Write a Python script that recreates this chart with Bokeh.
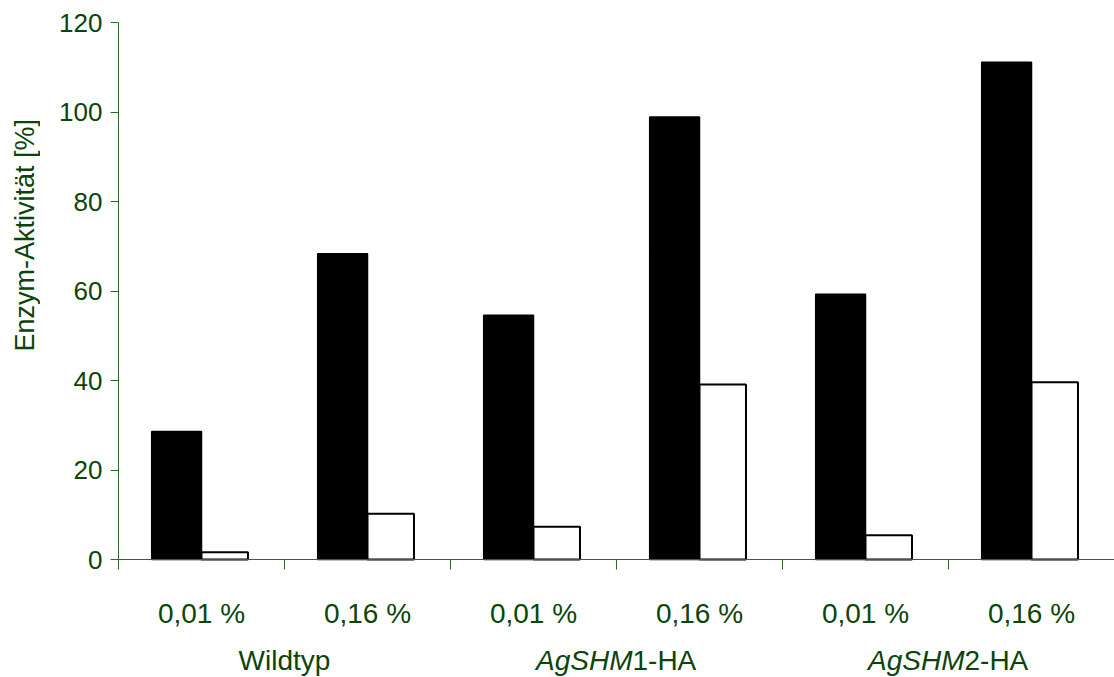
from bokeh.plotting import figure
from bokeh.models import FixedTicker, Range1d, ColumnDataSource
from bokeh.layouts import row
from bokeh.core.properties import value
from bokeh.embed import file_html
from bokeh.resources import INLINE

# ---- data ----
concentrations = ["0,01 %", "0,16 %", "0,01 %", "0,16 %", "0,01 %", "0,16 %"]
group_italic = ["", "AgSHM", "AgSHM"]
group_plain = ["Wildtyp", "1-HA", "2-HA"]
black_values = [28.6, 68.3, 54.6, 98.9, 59.3, 111.1]
white_values = [1.6, 10.2, 7.3, 39.1, 5.4, 39.6]
y_ticks = [0, 20, 40, 60, 80, 100, 120]
y_title = "Enzym-Aktivität [%]"

GREEN = "#0a450a"
AXIS_GREEN = "#2f662f"
FONT = "Liberation Sans"

n = len(concentrations)
centers = [i + 0.5 for i in range(n)]
src = ColumnDataSource(dict(
    xb=[c - 0.15 for c in centers], xw=[c + 0.14 for c in centers],
    black=black_values, white=white_values))

LEFT_W = 40
H = 677
TOP = 22
ZERO_PX = 559
ppu = (ZERO_PX - TOP) / 120.0          # pixels per value unit
y_min = -(H - ZERO_PX) / ppu           # extend frame down to page bottom

p = figure(width=1114 - LEFT_W, height=H, x_range=Range1d(0, n), y_range=Range1d(y_min, 120),
           output_backend="svg", toolbar_location=None,
           min_border_left=118 - LEFT_W, min_border_right=0, min_border_top=TOP,
           min_border_bottom=0)
p.outline_line_color = None
p.xgrid.visible = False
p.ygrid.visible = False

p.vbar(x="xb", width=0.3, top="black", bottom=0, source=src,
       fill_color="black", line_color="black", line_width=1.5)
p.vbar(x="xw", width=0.28, top="white", bottom=0, source=src,
       fill_color="white", line_color="black", line_width=2)

# y axis
ya = p.yaxis[0]
ya.ticker = FixedTicker(ticks=y_ticks, minor_ticks=[])
ya.bounds = (-10 / ppu, 120)
ya.axis_line_color = AXIS_GREEN
ya.major_tick_line_color = AXIS_GREEN
ya.major_tick_in = 0
ya.major_tick_out = 8
ya.minor_tick_line_color = None
ya.major_label_standoff = 8
ya.major_label_text_font = FONT
ya.major_label_text_font_size = "26px"
ya.major_label_text_color = GREEN

# x axis placed at value 0
xa = p.xaxis[0]
xa.fixed_location = 0
xa.ticker = FixedTicker(ticks=centers, minor_ticks=list(range(n + 1)))
xa.major_label_overrides = {c: lab for c, lab in zip(centers, concentrations)}
xa.axis_line_color = AXIS_GREEN
xa.major_tick_line_color = None
xa.major_tick_in = 0
xa.major_tick_out = 0
xa.minor_tick_line_color = AXIS_GREEN
xa.minor_tick_in = 0
xa.minor_tick_out = 10
xa.major_label_standoff = 28
xa.major_label_text_font = FONT
xa.major_label_text_font_size = "28px"
xa.major_label_text_color = GREEN

# group names under the concentration labels
base_y = -(660 - ZERO_PX) / ppu
SPLIT = 16
c_x, c_t, s_x, s_it, s_pl = [], [], [], [], []
for gi, (it, pl) in enumerate(zip(group_italic, group_plain)):
    xc = 2 * gi + 1
    if it:
        s_x.append(xc)
        s_it.append(it)
        s_pl.append(pl)
    else:
        c_x.append(xc)
        c_t.append(pl)

p.text(x=c_x, y=[base_y] * len(c_x), text=c_t,
       text_align="center", text_baseline="alphabetic",
       text_font=value(FONT), text_font_size="28px", text_color=GREEN)
p.text(x=s_x, y=[base_y] * len(s_x), text=s_it, x_offset=SPLIT,
       text_align="right", text_baseline="alphabetic", text_font_style="italic",
       text_font=value(FONT), text_font_size="28px", text_color=GREEN)
p.text(x=s_x, y=[base_y] * len(s_x), text=s_pl, x_offset=SPLIT,
       text_align="left", text_baseline="alphabetic",
       text_font=value(FONT), text_font_size="28px", text_color=GREEN)

# left strip with the y-axis title
left = figure(width=LEFT_W, height=H, x_range=Range1d(0, LEFT_W), y_range=Range1d(0, H),
              output_backend="svg", toolbar_location=None, min_border=0)
left.axis.visible = False
left.grid.visible = False
left.outline_line_color = None
left.text(x=[24.5], y=[H - 220], text=[y_title], angle=1.5708,
          text_align="center", text_baseline="middle",
          text_font=value(FONT), text_font_size="27px", text_color=GREEN)

layout = row(left, p, spacing=0)
open("out.html", "w").write(file_html(layout, INLINE))
